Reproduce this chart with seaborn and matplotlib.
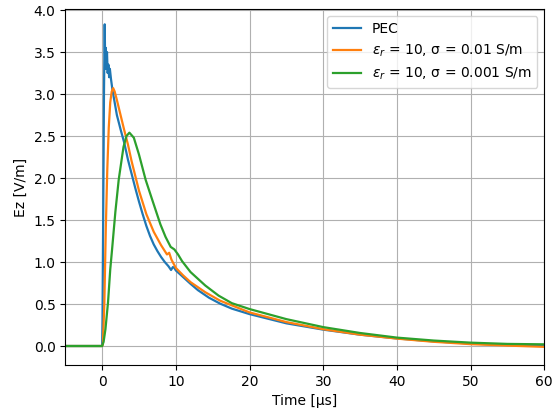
import numpy as np
import pandas as pd
import matplotlib
matplotlib.use("Agg")
import matplotlib.pyplot as plt
import seaborn as sns

# PEC
t_pec = [-5, 0, 0.05, 0.15, 0.25, 0.35, 0.42, 0.5, 0.58, 0.66, 0.75, 0.85, 0.95, 1.05,
         1.2, 1.4, 1.6, 2.0, 2.5, 3.0, 3.5, 4.0, 4.5, 5.0, 5.5, 6.0, 6.5, 7.0, 7.5, 8.0,
         8.5, 9.0, 9.35, 9.6, 9.8, 10.0, 10.5, 11, 12, 13, 14.5, 16, 17.6, 20, 25, 30,
         35, 40, 45, 50, 55, 60]
v_pec = [0, 0, 0.3, 1.6, 3.0, 3.83, 3.3, 3.55, 3.3, 3.5, 3.25, 3.35, 3.2, 3.3,
         3.18, 3.05, 2.95, 2.75, 2.58, 2.42, 2.22, 2.05, 1.88, 1.72, 1.57, 1.43, 1.31, 1.21, 1.13, 1.06,
         1.0, 0.95, 0.905, 0.94, 0.93, 0.9, 0.86, 0.82, 0.74, 0.665, 0.575, 0.505, 0.445, 0.38, 0.27, 0.195,
         0.135, 0.09, 0.055, 0.03, 0.012, 0.005]

# eps_r = 10, sigma = 0.01
t_o = [-5, 0, 0.1, 0.3, 0.5, 0.7, 0.9, 1.1, 1.3, 1.5, 1.7, 2.0, 2.5, 3.0, 3.5, 4.0, 5.0,
       6.0, 7.0, 8.0, 8.8, 9.1, 9.4, 10, 11, 12, 14, 16, 20, 25, 30, 35, 40, 45, 50, 55, 60]
v_o = [0, 0, 0.02, 0.5, 1.4, 2.1, 2.6, 2.9, 3.03, 3.07, 3.03, 2.93, 2.75, 2.57, 2.4, 2.2, 1.85,
       1.57, 1.36, 1.2, 1.09, 1.11, 1.03, 0.93, 0.84, 0.76, 0.64, 0.54, 0.4, 0.285, 0.2, 0.135, 0.088,
       0.05, 0.022, 0.005, -0.01]

# eps_r = 10, sigma = 0.001
t_g = [-5, 0, 0.2, 0.45, 0.8, 1.1, 1.35, 1.8, 2.25, 2.9, 3.3, 3.7, 4.3, 5.0, 5.9, 6.8, 7.9,
       8.6, 9.3, 9.8, 10.3, 10.85, 12, 14, 15.8, 17.6, 20, 25, 30, 35, 40, 45, 50, 55, 60]
v_g = [0, 0, 0.05, 0.2, 0.52, 0.91, 1.15, 1.6, 1.98, 2.37, 2.5, 2.54, 2.48, 2.28, 1.98, 1.74, 1.45,
       1.3, 1.18, 1.15, 1.09, 1.01, 0.88, 0.72, 0.6, 0.51, 0.44, 0.32, 0.225, 0.155, 0.1, 0.065,
       0.04, 0.025, 0.02]

labels = ["PEC", r"$\epsilon_r$ = 10, σ = 0.01 S/m", r"$\epsilon_r$ = 10, σ = 0.001 S/m"]
x_ticks = [0, 10, 20, 30, 40, 50, 60]
y_ticks = [0.0, 0.5, 1.0, 1.5, 2.0, 2.5, 3.0, 3.5, 4.0]

df = pd.concat([
    pd.DataFrame({"t": t_pec, "v": v_pec, "case": labels[0]}),
    pd.DataFrame({"t": t_o, "v": v_o, "case": labels[1]}),
    pd.DataFrame({"t": t_g, "v": v_g, "case": labels[2]}),
], ignore_index=True)

fig = plt.figure(figsize=(5.57, 4.12), dpi=100)
ax = fig.add_axes([0.1172, 0.1141, 0.860, 0.864])
sns.lineplot(data=df, x="t", y="v", hue="case", hue_order=labels,
             palette=["#1f77b4", "#ff7f0e", "#2ca02c"], estimator=None, sort=False,
             linewidth=1.6, ax=ax)
ax.grid(True, color="#b0b0b0", linewidth=0.8)
ax.set_axisbelow(True)
ax.set_xlim(-5, 60)
ax.set_xticks(x_ticks)
ax.set_yticks(y_ticks)
ax.set_ylim(-0.226, 4.012)
ax.set_xlabel("Time [µs]")
ax.set_ylabel("Ez [V/m]")
h, l = ax.get_legend_handles_labels()
ax.legend(h, l, loc="upper right", title=None)
fig.savefig("out.png", dpi=100)
